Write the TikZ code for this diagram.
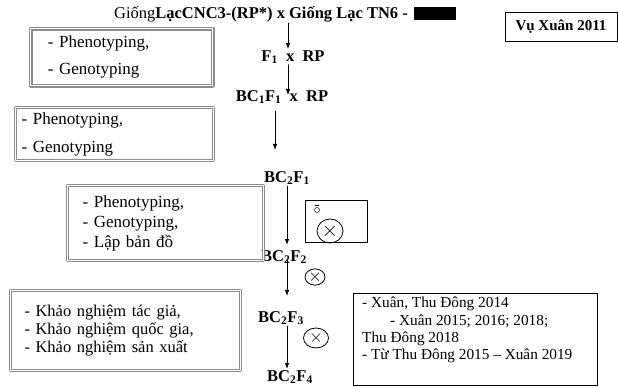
\documentclass[tikz,border=0pt]{standalone}
\usepackage{fontspec}
\setmainfont{Liberation Serif}
\usetikzlibrary{arrows.meta,calc,positioning,shapes.geometric}
\definecolor{vienxam}{HTML}{8C8C8C}

\begin{document}
\begin{tikzpicture}[x=1pt,y=-1pt,>=Latex,line cap=round,line join=round]
    \useasboundingbox (0,0) rectangle (618,387);
    \tikzset{
        dam/.style={font=\bfseries\fontsize{16.5}{18}\selectfont,inner sep=1pt},
        hopxam/.style={draw=vienxam,double=white,double distance=1.2pt,line width=1.1pt,
            align=left,anchor=north west,inner ysep=0pt},
        hopden/.style={draw=black,line width=0.7pt},
        mui/.style={->,line width=0.8pt,>={Latex[length=6pt,width=4.5pt]}},
        tuthu/.style={draw,ellipse,line width=0.8pt,inner sep=0pt,font=\fontsize{20}{20}\selectfont}
    }
    % dong lai ban dau
    \node[font=\fontsize{16.5}{18}\selectfont,inner sep=1pt] (tieude) at (261,14)
        {Giống\textbf{LạcCNC3-(RP*) x Giống Lạc TN6 -}};
    \node[fill=black,minimum width=42,minimum height=13,inner sep=0pt,right=5pt of tieude] (an) {};
    \node[hopden,minimum width=112,minimum height=29,font=\bfseries\fontsize{15}{17}\selectfont] (vu) at (561,27) {Vụ Xuân 2011};

    % cac the he
    \coordinate (truc) at (288,0);
    \coordinate (truchai) at (287,0);
    \node[dam] (f1) at (293,57) {F\textsubscript{1}\ \ x\ \ RP};
    \node[dam] (bc1) at (282,97) {BC\textsubscript{1}F\textsubscript{1}\ \ x\ \ RP};
    \node[dam] (bc21) at (287,178) {BC\textsubscript{2}F\textsubscript{1}};
    \node[dam] (bc22) at (284,257) {BC\textsubscript{2}F\textsubscript{2}};
    \node[dam] (bc23) at (281,318) {BC\textsubscript{2}F\textsubscript{3}};
    \node[dam] (bc24) at (290,377) {BC\textsubscript{2}F\textsubscript{4}};
    \coordinate (cuoiba) at (275,150);

    \draw[mui] (tieude.south -| truc) -- (f1.north -| truc);
    \draw[mui] (f1.south -| truc) -- ($(bc1.center -| truc)+(0,-2)$);
    \draw[mui,shorten <=6pt] (bc1.south -| cuoiba) -- (cuoiba);
    \draw[mui,shorten >=4pt] (bc21.south -| truchai) -- (bc22.north -| truchai);
    \draw[mui] ($(bc22.center -| truchai)+(0,3)$) -- ($(bc23.north -| truchai)+(0,-14)$);
    \draw[mui] (bc23.south -| truchai) -- (bc24.north -| truchai);

    % tu thu
    \node[hopden,minimum width=62,minimum height=42,inner sep=0pt] (hopnho) at (336,221) {};
    \node[tuthu,minimum width=26,minimum height=24] (tuthuhop) at (330,231) {$\times$};
    \draw[line width=0.5pt] (317,210) circle (2.5);
    \draw[line width=0.5pt] (315,205.5) -- (319,205.5);
    \node[tuthu,minimum width=20,minimum height=16,font=\fontsize{16}{16}\selectfont] (tuthumot) at (315,277) {$\times$};
    \node[tuthu,minimum width=25,minimum height=20,font=\fontsize{17}{17}\selectfont] (tuthuhai) at (316,338) {$\times$};

    % cac hop mo ta
    \node[hopxam,line width=1.6pt,minimum width=182,minimum height=57,inner xsep=17pt,text width=148,
        font=\fontsize{17}{27}\selectfont] (hopmot) at (30,28) {- Phenotyping,\\- Genotyping};
    \node[hopxam,minimum width=198,minimum height=53,inner xsep=6pt,text width=186,
        font=\fontsize{17}{28}\selectfont] (hophai) at (15,107) {- Phenotyping,\\- Genotyping};
    \node[hopxam,minimum width=196,minimum height=75,inner xsep=15pt,text width=166,
        font=\fontsize{17}{20}\selectfont] (hopba) at (67,185) {- Phenotyping,\\- Genotyping,\\- Lập bản đồ};
    \node[hopxam,minimum width=230,minimum height=80,inner xsep=14pt,text width=202,
        font=\fontsize{16.5}{18}\selectfont] (hopbon) at (10,290)
        {- Khảo nghiệm tác giả,\\- Khảo nghiệm quốc gia,\\- Khảo nghiệm sản xuất};
    \node[hopden,minimum width=244,minimum height=92,inner sep=0pt,anchor=north west] (hopnam) at (353,293) {};
    \node[anchor=north west,align=left,inner sep=0pt,font=\fontsize{15.3}{17.3}\selectfont] (thoivu)
        at ($(hopnam.north west)+(9,4)$)
        {- Xuân, Thu Đông 2014\\\hspace*{28pt}- Xuân 2015; 2016; 2018;\\Thu Đông 2018\\- Từ Thu Đông 2015 – Xuân 2019};
\end{tikzpicture}
\end{document}
